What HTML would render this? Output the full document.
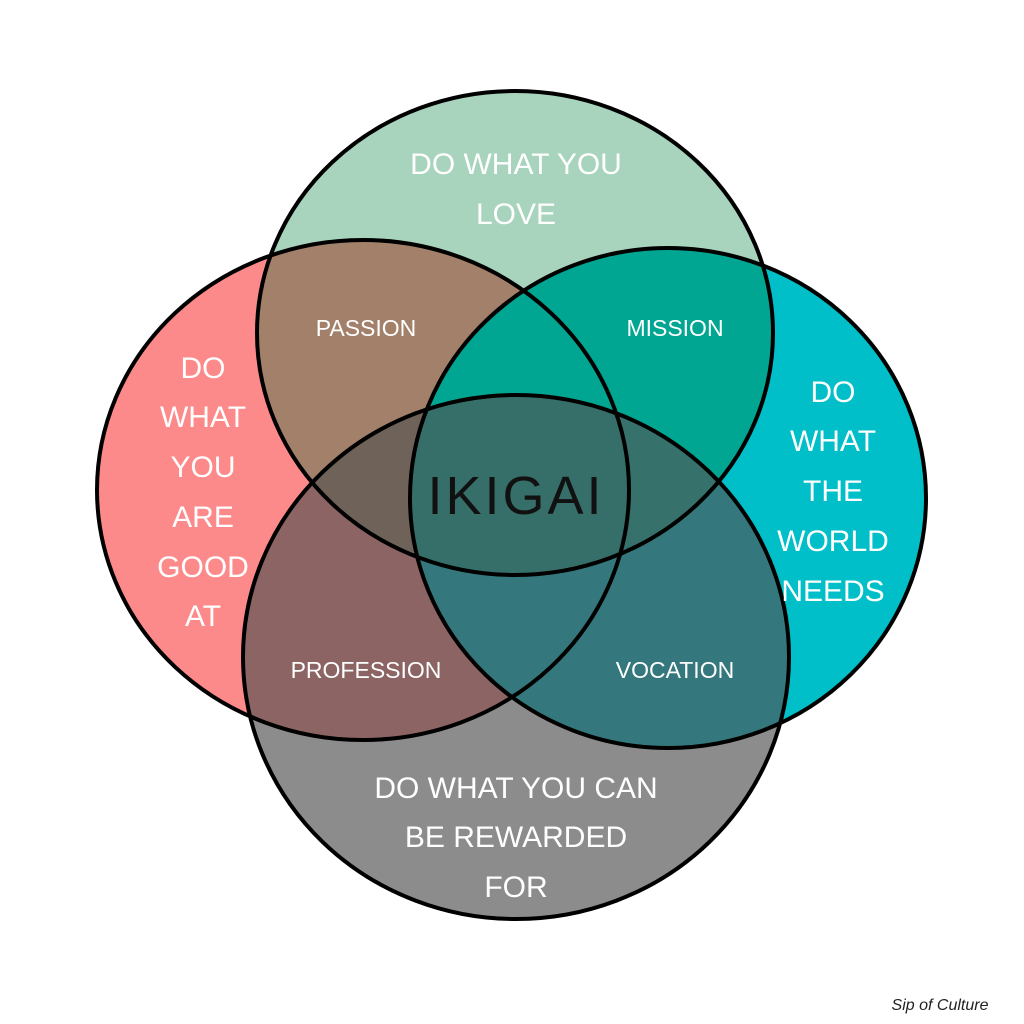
<!DOCTYPE html>
<html><head><meta charset="utf-8"><style>
html,body{margin:0;padding:0;background:#fff;}
svg{display:block;}
text{font-family:"Liberation Sans",sans-serif;}
</style></head><body>
<svg width="1024" height="1024" viewBox="0 0 1024 1024" xmlns="http://www.w3.org/2000/svg">
<defs>
<clipPath id="cT"><ellipse cx="515" cy="333" rx="258" ry="242"/></clipPath>
<clipPath id="cL"><ellipse cx="363" cy="490" rx="266" ry="250"/></clipPath>
<clipPath id="cR"><ellipse cx="668" cy="498" rx="258" ry="250"/></clipPath>
<clipPath id="cB"><ellipse cx="516" cy="657" rx="273" ry="262"/></clipPath>
</defs>
<rect width="1024" height="1024" fill="#fff"/>
<ellipse cx="515" cy="333" rx="258" ry="242" fill="#a8d3bd"/>
<ellipse cx="363" cy="490" rx="266" ry="250" fill="#fd8a8a"/>
<ellipse cx="668" cy="498" rx="258" ry="250" fill="#00bfc8"/>
<ellipse cx="516" cy="657" rx="273" ry="262" fill="#8c8c8c"/>
<g clip-path="url(#cT)"><ellipse cx="363" cy="490" rx="266" ry="250" fill="#a2806a"/></g>
<g clip-path="url(#cT)"><ellipse cx="668" cy="498" rx="258" ry="250" fill="#00a692"/></g>
<g clip-path="url(#cB)"><ellipse cx="363" cy="490" rx="266" ry="250" fill="#8c6464"/></g>
<g clip-path="url(#cB)"><ellipse cx="668" cy="498" rx="258" ry="250" fill="#34787d"/></g>
<g clip-path="url(#cL)"><ellipse cx="668" cy="498" rx="258" ry="250" fill="#1a8a85"/></g>
<g clip-path="url(#cT)"><ellipse cx="516" cy="657" rx="273" ry="262" fill="#7a7a7a"/></g>
<g clip-path="url(#cT)"><g clip-path="url(#cB)"><ellipse cx="363" cy="490" rx="266" ry="250" fill="#6e6259"/></g></g>
<g clip-path="url(#cT)"><g clip-path="url(#cB)"><ellipse cx="668" cy="498" rx="258" ry="250" fill="#37716c"/></g></g>
<g clip-path="url(#cT)"><g clip-path="url(#cL)"><ellipse cx="668" cy="498" rx="258" ry="250" fill="#00a692"/></g></g>
<g clip-path="url(#cB)"><g clip-path="url(#cL)"><ellipse cx="668" cy="498" rx="258" ry="250" fill="#34787d"/></g></g>
<g clip-path="url(#cT)"><g clip-path="url(#cB)"><g clip-path="url(#cL)"><ellipse cx="668" cy="498" rx="258" ry="250" fill="#366f69"/></g></g></g>
<g fill="none" stroke="#000" stroke-width="4">
<ellipse cx="515" cy="333" rx="258" ry="242"/>
<ellipse cx="363" cy="490" rx="266" ry="250"/>
<ellipse cx="668" cy="498" rx="258" ry="250"/>
<ellipse cx="516" cy="657" rx="273" ry="262"/>
</g>
<g fill="#fff" font-size="30" text-anchor="middle">
<text x="516" y="174">DO WHAT YOU</text>
<text x="516" y="224">LOVE</text>
<text x="203" y="378">DO</text>
<text x="203" y="427">WHAT</text>
<text x="203" y="477">YOU</text>
<text x="203" y="527">ARE</text>
<text x="203" y="577">GOOD</text>
<text x="203" y="626">AT</text>
<text x="833" y="402">DO</text>
<text x="833" y="451">WHAT</text>
<text x="833" y="501">THE</text>
<text x="833" y="551">WORLD</text>
<text x="833" y="601">NEEDS</text>
<text x="516" y="798">DO WHAT YOU CAN</text>
<text x="516" y="847">BE REWARDED</text>
<text x="516" y="897">FOR</text>
</g>
<g fill="#fff" font-size="23" text-anchor="middle">
<text x="366" y="336">PASSION</text>
<text x="675" y="336">MISSION</text>
<text x="366" y="678">PROFESSION</text>
<text x="675" y="678">VOCATION</text>
</g>
<text x="516" y="514" font-size="54" text-anchor="middle" fill="#111" letter-spacing="3">IKIGAI</text>
<text x="940" y="1010" font-size="16" font-style="italic" text-anchor="middle" fill="#222">Sip of Culture</text>
</svg>
</body></html>
